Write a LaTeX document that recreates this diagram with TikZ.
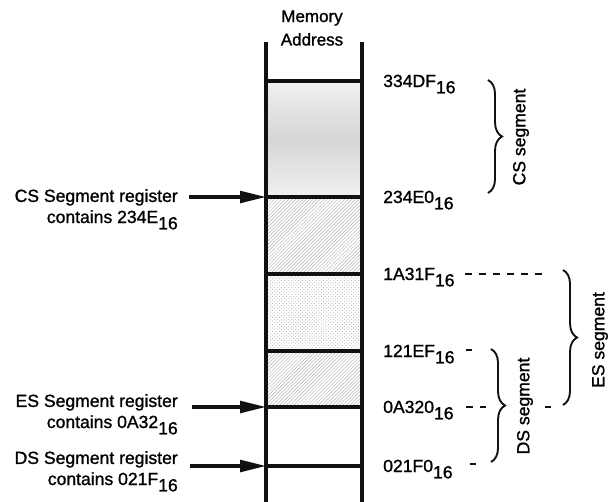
\documentclass[tikz,border=0pt]{standalone}
\usepackage{fontspec}
\setmainfont{Liberation Sans}[BoldFont=Liberation Sans, BoldFeatures={FakeBold=1.2}]
\usepackage{tikz}
\usetikzlibrary{arrows.meta, positioning, calc, patterns, decorations.pathreplacing}
\definecolor{clrInk}{HTML}{111111}
\definecolor{clrShade}{HTML}{D6D6D6}
\definecolor{clrShadeLight}{HTML}{F0F0F0}
\definecolor{clrHatch}{HTML}{B4B4B4}
\newcommand{\hexsub}[1]{#1\raisebox{-0.36em}{16}}
\tikzset{
  col wall/.style={line width=4.2pt, draw=clrInk},
  col rule/.style={line width=2.8pt, draw=clrInk},
  addr label/.style={anchor=base west, inner sep=0pt, font=\fontsize{15}{18}\selectfont\bfseries},
  reg label/.style={anchor=base east, align=right, inner sep=0pt, font=\fontsize{15}{18}\selectfont\bfseries},
  seg label/.style={rotate=90, inner sep=0pt, font=\fontsize{15}{18}\selectfont\bfseries},
  seg brace/.style={decorate, decoration={brace, amplitude=12pt}, line width=1.6pt, draw=clrInk},
  leader/.style={draw=clrInk, line width=1.3pt, dash pattern=on 6pt off 6pt},
  reg arr/.style={-{Triangle[length=22pt, width=10pt]}, line width=2.6pt, draw=clrInk},
}

\begin{document}
\begin{tikzpicture}[x=0.03cm, y=-0.03cm]
  \useasboundingbox (0,0) rectangle (608,502);

  % Column rules
  \foreach \name/\y in {334/81, 234/197, 1A3/274, 121/351, 0A3/407, 021/466} {
    \coordinate (L\name) at (266,\y);
    \coordinate (R\name) at (362,\y);
  }
  \coordinate (wallLtop) at (266,42);
  \coordinate (wallLbot) at (266,502);
  \coordinate (wallRtop) at (362,42);
  \coordinate (wallRbot) at (362,502);

  % Fills
  \shade[top color=clrShadeLight, bottom color=clrShadeLight, middle color=clrShade] (L334) rectangle (R234);
  \fill[pattern=north east lines, pattern color=clrHatch] (L234) rectangle (R1A3);
  \fill[pattern=crosshatch dots, pattern color=clrHatch] (L1A3) rectangle (R121);
  \fill[pattern=north east lines, pattern color=clrHatch] (L121) rectangle (R0A3);

  \foreach \name in {334, 234, 1A3, 121, 0A3, 021}
    \draw[col rule] (L\name) -- (R\name);
  \draw[col wall] (wallLtop) -- (wallLbot);
  \draw[col wall] (wallRtop) -- (wallRbot);

  \node[align=center, inner sep=0pt, font=\fontsize{14.5}{20}\selectfont\bfseries] (title) at (312,28) {Memory\\Address};

  % Addresses
  \foreach \name/\txt in {334/334DF, 234/234E0, 1A3/1A31F, 121/121EF, 0A3/0A320, 021/021F0}
    \node[addr label] (a\name) at ($(R\name)+(21,6)$) {\hexsub{\txt}};

  % Segment registers
  \node[reg label] (csreg) at (178,223) {CS Segment register\\contains \hexsub{234E}};
  \node[reg label] (esreg) at (178,428) {ES Segment register\\contains \hexsub{0A32}};
  \node[reg label] (dsreg) at (178,485) {DS Segment register\\contains \hexsub{021F}};
  \draw[reg arr] ($(L234)+(-77,0)$) -- (L234);
  \draw[reg arr] ($(L0A3)+(-74,0)$) -- (L0A3);
  \draw[reg arr] ($(L021)+(-76,0)$) -- (L021);

  % Leaders
  \draw[leader] ($(R1A3)+(103,0)$) -- ($(R1A3)+(186,0)$);
  \draw[leader] ($(R121)+(104,-1)$) -- ($(R121)+(110,-1)$);
  \draw[leader] ($(R0A3)+(104,0)$) -- ($(R0A3)+(124,0)$);
  \draw[leader] ($(R0A3)+(183,0)$) -- ($(R0A3)+(189,0)$);
  \draw[leader] ($(R021)+(108,-2)$) -- ($(R021)+(114,-2)$);

  % Segments
  \coordinate (csTop) at (488,80);
  \coordinate (csBot) at (488,193);
  \coordinate (esTop) at (563,270);
  \coordinate (esBot) at (563,405);
  \coordinate (dsTop) at (491,349);
  \coordinate (dsBot) at (491,462);
  \draw[seg brace] (csTop) -- (csBot);
  \draw[seg brace] (esTop) -- (esBot);
  \draw[seg brace] (dsTop) -- (dsBot);
  \node[seg label] (csseg) at (521,137) {CS segment};
  \node[seg label] (esseg) at (600,340) {ES segment};
  \node[seg label] (dsseg) at (525,406) {DS segment};
\end{tikzpicture}
\end{document}
